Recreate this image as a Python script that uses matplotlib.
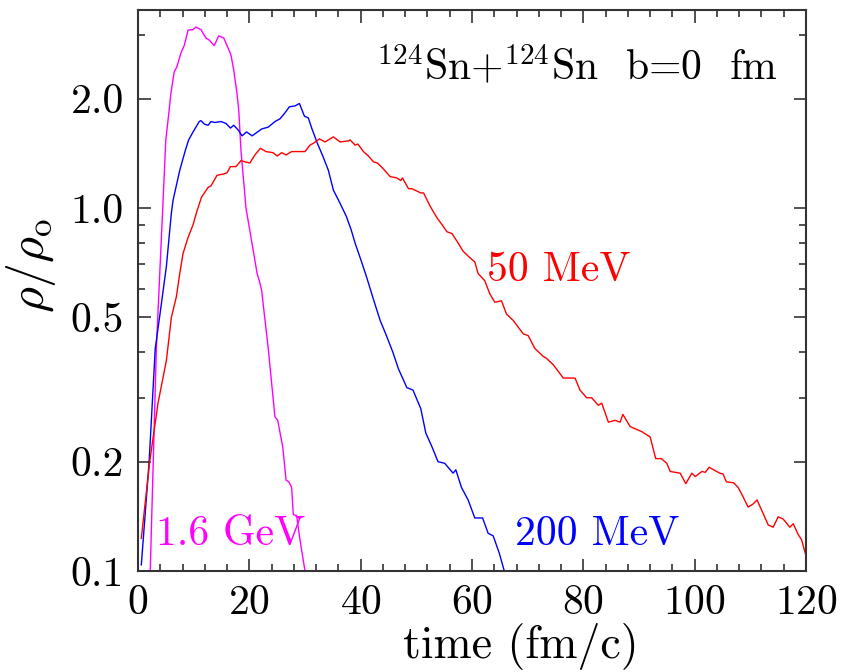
"""
Central density vs time for 124Sn+124Sn central collisions at three beam
energies (log scale), redrawn from a published figure.
"""

import matplotlib
matplotlib.use("Agg")
import matplotlib.pyplot as plt
from matplotlib.ticker import FixedLocator, FixedFormatter, NullFormatter


# ---------------------------------------------------------------------------
# Data  (time in fm/c, rho/rho0)
# ---------------------------------------------------------------------------

T_1600 = [2.2, 3.3, 5.0, 5.6, 5.9, 6.5, 7.0, 7.7, 8.3, 9.0, 9.9, 10.4, 11.3,
          12.2, 12.8, 13.7, 14.5, 15.4, 16.0, 16.7, 17.2, 17.8, 18.1, 18.5,
          19.4, 21.4, 21.8, 22.2, 23.4, 24.6, 25.1, 26.0, 26.6, 27.1, 27.6,
          27.9, 28.5, 29.1, 30.0]
RHO_1600 = [0.10, 0.41, 1.54, 1.86, 2.06, 2.37, 2.45, 2.67, 2.80, 3.09, 3.10,
            3.15, 3.10, 2.94, 2.90, 2.80, 2.98, 2.94, 2.80, 2.64, 2.40, 2.06,
            1.86, 1.44, 1.00, 0.66, 0.63, 0.595, 0.41, 0.266, 0.26, 0.22,
            0.178, 0.176, 0.17, 0.143, 0.142, 0.122, 0.10]

T_200 = [0.6, 2.0, 3.1, 4.1, 5.1, 6.0, 6.3, 7.5, 8.5, 9.1, 9.9, 11.0, 11.3,
         12.0, 12.6, 13.1, 13.8, 14.9, 15.8, 16.6, 17.2, 18.0, 18.7, 19.5,
         20.5, 22.2, 23.4, 24.6, 25.5, 26.3, 27.2, 28.2, 29.0, 29.9, 30.6,
         31.2, 32.2, 33.2, 34.2, 35.1, 36.3, 37.4, 38.3, 39.0, 39.9, 41.0,
         42.3, 43.5, 44.5, 45.8, 46.8, 48.3, 49.4, 50.8, 51.7, 52.8, 53.9,
         55.1, 56.6, 57.1, 58.1, 59.3, 60.5, 61.9, 62.9, 63.8, 64.9, 65.8]
RHO_200 = [0.104, 0.20, 0.41, 0.53, 0.69, 0.97, 1.05, 1.27, 1.44, 1.54, 1.62,
           1.73, 1.74, 1.70, 1.69, 1.73, 1.72, 1.73, 1.71, 1.66, 1.69, 1.64,
           1.58, 1.62, 1.58, 1.65, 1.67, 1.73, 1.76, 1.82, 1.90, 1.91, 1.94,
           1.79, 1.77, 1.66, 1.51, 1.39, 1.27, 1.12, 1.03, 0.95, 0.87, 0.80,
           0.73, 0.65, 0.56, 0.49, 0.45, 0.40, 0.36, 0.32, 0.315, 0.28, 0.24,
           0.22, 0.20, 0.198, 0.186, 0.19, 0.17, 0.157, 0.14, 0.14, 0.127,
           0.125, 0.112, 0.10]

T_50 = [0.6, 2.1, 3.6, 5.1, 6.0, 6.9, 7.5, 8.1, 9.0, 9.9, 10.5, 11.4, 12.6,
        13.1, 14.2, 15.3, 16.0, 16.6, 17.6, 18.5, 19.2, 20.1, 21.0, 22.0,
        23.0, 24.3, 25.0, 25.8, 26.6, 27.6, 30.0, 30.9, 31.6, 32.6, 33.6,
        35.1, 36.3, 37.8, 38.1, 39.0, 39.5, 40.5, 41.4, 42.3, 43.0, 43.9,
        45.3, 46.5, 47.2, 47.5, 48.6, 49.2, 50.8, 51.3, 52.5, 53.7, 54.6,
        55.5, 56.4, 57.3, 58.4, 59.6, 60.5, 61.1, 62.3, 63.2, 64.1, 65.3,
        66.2, 67.4, 69.2, 70.1, 71.3, 72.8, 73.4, 74.6, 76.4, 78.5, 79.4,
        80.6, 81.5, 82.7, 83.3, 84.5, 85.7, 86.6, 87.1, 88.4, 90.5, 92.0,
        93.0, 94.0, 95.0, 95.6, 97.4, 98.4, 99.5, 100.1, 101.3, 101.9, 102.6,
        104.5, 105.1, 105.7, 107.0, 107.8, 108.7, 109.6, 110.5, 111.2, 112.3,
        113.2, 114.1, 115.0, 115.9, 117.1, 117.7, 118.6, 119.2, 120.0]
RHO_50 = [0.123, 0.20, 0.29, 0.38, 0.50, 0.57, 0.66, 0.75, 0.83, 0.90, 0.97,
          1.07, 1.14, 1.15, 1.23, 1.24, 1.25, 1.30, 1.30, 1.35, 1.34, 1.33,
          1.40, 1.46, 1.43, 1.42, 1.39, 1.42, 1.40, 1.43, 1.43, 1.49, 1.51,
          1.55, 1.52, 1.57, 1.52, 1.53, 1.54, 1.49, 1.50, 1.43, 1.39, 1.34,
          1.33, 1.29, 1.22, 1.21, 1.19, 1.21, 1.13, 1.13, 1.10, 1.10, 1.01,
          0.94, 0.90, 0.86, 0.85, 0.81, 0.76, 0.73, 0.71, 0.66, 0.63, 0.58,
          0.55, 0.555, 0.51, 0.49, 0.45, 0.445, 0.41, 0.39, 0.385, 0.37,
          0.34, 0.34, 0.315, 0.30, 0.30, 0.286, 0.29, 0.257, 0.26, 0.257,
          0.27, 0.25, 0.242, 0.234, 0.204, 0.204, 0.198, 0.188, 0.186, 0.174,
          0.186, 0.182, 0.188, 0.187, 0.193, 0.186, 0.185, 0.176, 0.175,
          0.17, 0.16, 0.15, 0.153, 0.157, 0.144, 0.134, 0.132, 0.141, 0.139,
          0.132, 0.135, 0.126, 0.122, 0.11]

Y_MAJOR = [0.1, 0.2, 0.5, 1.0, 2.0]
Y_LABELS = ["0.1", "0.2", "0.5", "1.0", "2.0"]
Y_MINOR = [0.3, 0.4, 0.6, 0.7, 0.8, 0.9, 3.0]
X_MAJOR = [0, 20, 40, 60, 80, 100, 120]


# ---------------------------------------------------------------------------
# Plot
# ---------------------------------------------------------------------------

plt.rcParams["font.family"] = "cmr10"
plt.rcParams["mathtext.fontset"] = "cm"
plt.rcParams["axes.formatter.use_mathtext"] = True

FS = 30

fig = plt.figure(figsize=(8.56, 6.72), dpi=100)
ax = fig.add_axes([0.1612, 0.1503, 0.7804, 0.8348])

ax.plot(T_1600, RHO_1600, color="#ff00ff", lw=1.0)
ax.plot(T_200, RHO_200, color="#0000ff", lw=1.0)
ax.plot(T_50, RHO_50, color="#ff0000", lw=1.0)

ax.set_yscale("log")
ax.set_xlim(0, 120)
ax.set_ylim(0.1, 3.51)

ax.yaxis.set_major_locator(FixedLocator(Y_MAJOR))
ax.yaxis.set_major_formatter(FixedFormatter(Y_LABELS))
ax.yaxis.set_minor_locator(FixedLocator(Y_MINOR))
ax.yaxis.set_minor_formatter(NullFormatter())
ax.set_xticks(X_MAJOR)
ax.set_xticks(range(0, 121, 4), minor=True)

ax.tick_params(which="both", direction="in", top=True, right=True,
               labelsize=FS, color="#333333", width=1.2)
ax.tick_params(which="major", length=9, pad=10)
ax.tick_params(which="minor", length=5)
for sp in ax.spines.values():
    sp.set_linewidth(1.5)
    sp.set_color("#333333")

ax.set_xlabel("time (fm/c)", fontsize=33)
ax.xaxis.set_label_coords(0.573, -0.092)
ax.set_ylabel(r"$\rho/\rho_\mathrm{o}$", fontsize=36)
ax.yaxis.set_label_coords(-0.12, 0.545)

ax.text(0.958, 0.875, r"$^{124}$Sn+$^{124}$Sn  b=0  fm", transform=ax.transAxes,
        ha="right", va="baseline", fontsize=FS)
ax.text(62.7, 0.63, "50 MeV", color="#ff0000", fontsize=FS, va="baseline")
ax.text(67.7, 0.118, "200 MeV", color="#0000ff", fontsize=FS, va="baseline")
ax.text(3.2, 0.118, "1.6 GeV", color="#ff00ff", fontsize=FS, va="baseline")

fig.savefig("out.png", dpi=100)
